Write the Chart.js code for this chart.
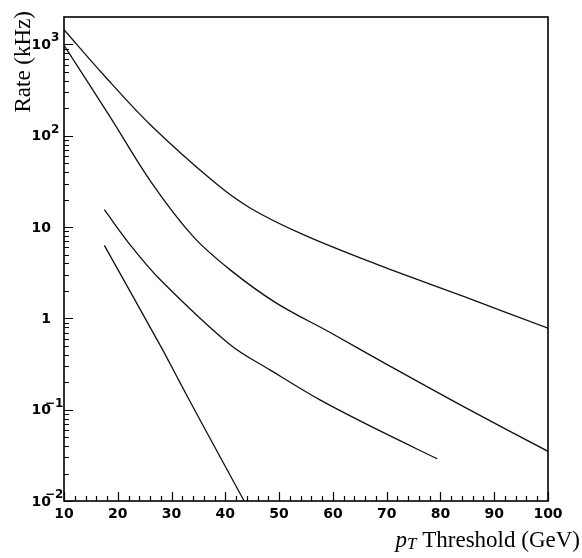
<!DOCTYPE html>
<html>
<head>
<meta charset="utf-8">
<script src="https://cdn.jsdelivr.net/npm/chart.js@4/dist/chart.umd.min.js"></script>
<style>
html,body{margin:0;padding:0;background:#fff;}
#wrap{width:582px;height:558px;}
</style>
</head>
<body>
<div id="wrap"><canvas id="c" width="582" height="558"></canvas></div>
<script>
// ---- data ----
const ptA   = [10, 17.3, 26, 38.1, 44.6, 54.5, 68.8, 84.3, 100];
const rateA = [1450, 469, 133, 30.5, 16.2, 8.26, 3.78, 1.74, 0.78];

const ptB   = [10, 18.6, 26.3, 34, 40.9, 49.5, 59.5, 70.6, 84.3, 100];
const rateB = [980, 160, 30.5, 7.9, 3.4, 1.47, 0.70, 0.30, 0.108, 0.035];

const ptC   = [17.5, 22.3, 27.9, 40.9, 48.3, 57.6, 68.4, 79.4];
const rateC = [15.5, 6.4, 2.65, 0.514, 0.273, 0.128, 0.06, 0.029];

const ptD   = [17.5, 28.2, 31.3, 35.3, 43.5];
const rateD = [6.3, 0.47, 0.212, 0.077, 0.01];

const xTickValues = [10, 20, 30, 40, 50, 60, 70, 80, 90, 100];
const yTickValues = [0.01, 0.1, 1, 10, 100, 1000];
const yTickBases  = ['10', '10', '1', '10', '10', '10'];
const yTickExps   = ['-2', '-1', '', '', '2', '3'];

const xTitleP = 'p';
const xTitleSub = 'T';
const xTitleRest = ' Threshold (GeV)';
const yTitle = 'Rate (kHz)';

function pts(xs, ys){ return xs.map((x,i)=>({x:x, y:ys[i]})); }

function ds(xs, ys){
  return {
    data: pts(xs, ys),
    borderColor: '#111',
    borderWidth: 1.3,
    pointRadius: 0,
    fill: false,
    tension: 0.35
  };
}

const framePlugin = {
  id: 'frame',
  afterDraw(chart){
    const ctx = chart.ctx;
    const {left, right, top, bottom} = chart.chartArea;
    const xs = chart.scales.x, ys = chart.scales.y;
    ctx.save();
    ctx.strokeStyle = '#000';
    ctx.lineWidth = 1.6;
    ctx.strokeRect(left, top, right - left, bottom - top);
    ctx.lineWidth = 1.2;
    ctx.beginPath();
    for (let v = 10; v <= 100; v += 2){
      const px = Math.round(xs.getPixelForValue(v)) + 0.5;
      const len = (v % 10 === 0) ? 9 : 5;
      ctx.moveTo(px, bottom);
      ctx.lineTo(px, bottom - len);
    }
    for (let e = -2; e <= 3; e++){
      for (let m = 1; m <= 9; m++){
        const v = m * Math.pow(10, e);
        if (v >= ys.max) break;
        const py = Math.round(ys.getPixelForValue(v)) + 0.5;
        const len = (m === 1) ? 9 : 5;
        ctx.moveTo(left, py);
        ctx.lineTo(left + len, py);
      }
    }
    ctx.stroke();

    ctx.fillStyle = '#000';
    // y tick labels with real superscripts
    const fBase = 'bold 14px "DejaVu Sans"';
    const fExp = 'bold 12px "DejaVu Sans"';
    yTickValues.forEach((v, i) => {
      const py = ys.getPixelForValue(v);
      ctx.font = fBase;
      ctx.textAlign = 'right';
      ctx.textBaseline = 'middle';
      ctx.fillText(yTickBases[i], 51, py + 1);
      const ex = yTickExps[i];
      if (ex){
        ctx.font = fExp;
        ctx.textAlign = 'left';
        ctx.textBaseline = 'alphabetic';
        const exX = ex.startsWith('-') ? 45 : 51;
        ctx.fillText(ex.replace('-', '\u2212'), exX, py - 3);
      }
    });

    // x title, right aligned at canvas right
    const fMain = '23px "Liberation Serif"';
    const fItal = 'italic 23px "Liberation Serif"';
    const fSub = 'italic 17px "Liberation Serif"';
    ctx.font = fItal; const wP = ctx.measureText(xTitleP).width;
    ctx.font = fSub; const wT = ctx.measureText(xTitleSub).width;
    ctx.font = fMain; const wR = ctx.measureText(xTitleRest).width;
    const xEnd = 580, base = 547;
    let x0 = xEnd - (wP + wT + wR);
    ctx.textAlign = 'left'; ctx.textBaseline = 'alphabetic';
    ctx.font = fItal; ctx.fillText(xTitleP, x0, base); x0 += wP;
    ctx.font = fSub; ctx.fillText(xTitleSub, x0, base + 2); x0 += wT;
    ctx.font = fMain; ctx.fillText(xTitleRest, x0, base);

    // y title rotated
    ctx.save();
    ctx.translate(30, 11);
    ctx.rotate(-Math.PI/2);
    ctx.textAlign = 'right';
    ctx.textBaseline = 'alphabetic';
    ctx.font = fMain;
    ctx.fillText(yTitle, 0, 0);
    ctx.restore();

    ctx.restore();
  }
};

new Chart(document.getElementById('c'), {
  type: 'line',
  data: { datasets: [ds(ptA, rateA), ds(ptB, rateB), ds(ptC, rateC), ds(ptD, rateD)] },
  options: {
    responsive: false,
    animation: false,
    events: [],
    layout: { padding: { top: 17, right: 34, left: 0, bottom: 0 } },
    plugins: { legend: { display: false }, tooltip: { enabled: false }, title: { display: false } },
    scales: {
      x: {
        type: 'linear',
        min: 10, max: 100,
        grid: { display: false, drawTicks: false },
        border: { display: false },
        afterBuildTicks(scale){ scale.ticks = xTickValues.map(v => ({value: v})); },
        afterFit(scale){ scale.height = 57; },
        ticks: {
          autoSkip: false, maxRotation: 0, padding: 5,
          color: '#000',
          font: { family: '"DejaVu Sans"', weight: 'bold', size: 14 },
          callback: (v) => String(v)
        }
      },
      y: {
        type: 'logarithmic',
        min: 0.01, max: 2000,
        grid: { display: false, drawTicks: false },
        border: { display: false },
        afterBuildTicks(scale){ scale.ticks = yTickValues.map(v => ({value: v})); },
        afterFit(scale){ scale.width = 64; },
        ticks: { display: false }
      }
    }
  },
  plugins: [framePlugin]
});
</script>
</body>
</html>
